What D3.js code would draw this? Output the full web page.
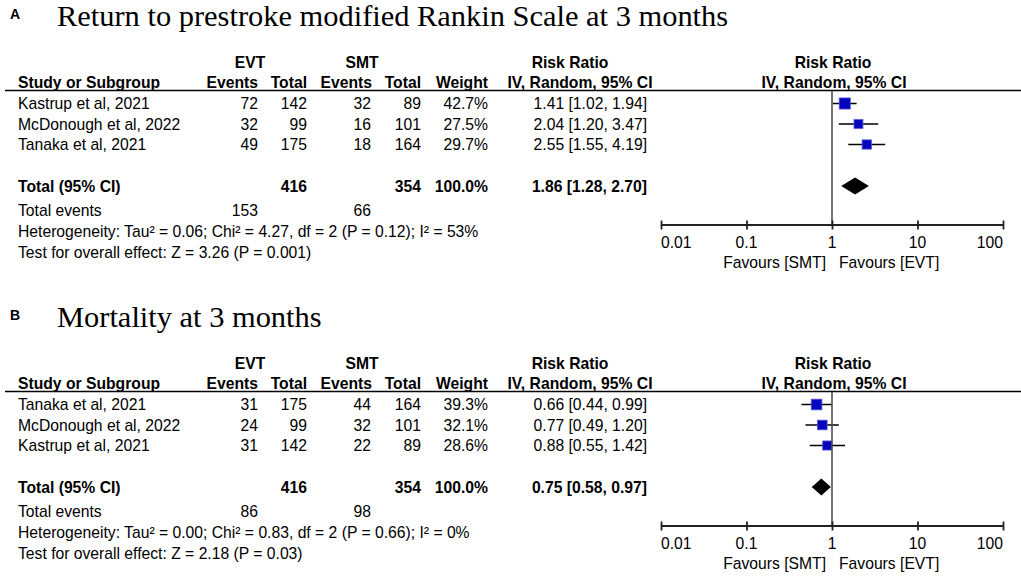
<!DOCTYPE html>
<html>
<head>
<meta charset="utf-8">
<script src="https://cdn.jsdelivr.net/npm/d3@7"></script>
<style>
  body { margin: 0; background: #fff; }
  svg { display: block; }
  text { font-family: "Liberation Sans", Arial, sans-serif; font-size: 15.7px; fill: #000; }
  .bold { font-weight: bold; }
  .title { font-family: "Liberation Serif", "Times New Roman", serif; font-size: 29px; }
</style>
</head>
<body>
<div id="chart"></div>
<script>
// Panel A: return to prestroke mRS
const studiesA = ["Kastrup et al, 2021", "McDonough et al, 2022", "Tanaka et al, 2021"];
const evtEventsA = [72, 32, 49];
const evtTotalA = [142, 99, 175];
const smtEventsA = [32, 16, 18];
const smtTotalA = [89, 101, 164];
const weightA = [42.7, 27.5, 29.7];
const rrA = [1.41, 2.04, 2.55];
const loA = [1.02, 1.20, 1.55];
const hiA = [1.94, 3.47, 4.19];
const totalA = { rr: 1.86, lo: 1.28, hi: 2.70, evtN: 416, smtN: 354, evtEv: 153, smtEv: 66 };
const hetA = "Heterogeneity: Tau² = 0.06; Chi² = 4.27, df = 2 (P = 0.12); I² = 53%";
const testA = "Test for overall effect: Z = 3.26 (P = 0.001)";

// Panel B: mortality
const studiesB = ["Tanaka et al, 2021", "McDonough et al, 2022", "Kastrup et al, 2021"];
const evtEventsB = [31, 24, 31];
const evtTotalB = [175, 99, 142];
const smtEventsB = [44, 32, 22];
const smtTotalB = [164, 101, 89];
const weightB = [39.3, 32.1, 28.6];
const rrB = [0.66, 0.77, 0.88];
const loB = [0.44, 0.49, 0.55];
const hiB = [0.99, 1.20, 1.42];
const totalB = { rr: 0.75, lo: 0.58, hi: 0.97, evtN: 416, smtN: 354, evtEv: 86, smtEv: 98 };
const hetB = "Heterogeneity: Tau² = 0.00; Chi² = 0.83, df = 2 (P = 0.66); I² = 0%";
const testB = "Test for overall effect: Z = 2.18 (P = 0.03)";

const tickValues = [0.01, 0.1, 1, 10, 100];
const tickLabels = ["0.01", "0.1", "1", "10", "100"];

const panels = [
  { letter: "A", title: "Return to prestroke modified Rankin Scale at 3 months", dy: 0,
    studies: studiesA, evtEv: evtEventsA, evtN: evtTotalA, smtEv: smtEventsA, smtN: smtTotalA,
    w: weightA, rr: rrA, lo: loA, hi: hiA, total: totalA, het: hetA, test: testA },
  { letter: "B", title: "Mortality at 3 months", dy: 301,
    studies: studiesB, evtEv: evtEventsB, evtN: evtTotalB, smtEv: smtEventsB, smtN: smtTotalB,
    w: weightB, rr: rrB, lo: loB, hi: hiB, total: totalB, het: hetB, test: testB }
];

const width = 1021, height = 578;
const svg = d3.select("#chart").append("svg")
  .attr("width", width)
  .attr("height", height);

const x = d3.scaleLog().domain([0.01, 100]).range([661, 1003]);
const size = d3.scaleSqrt().domain([0, 100]).range([0, 17]);
const f2 = d3.format(".2f");
const ci = (r, l, h) => `${f2(r)} [${f2(l)}, ${f2(h)}]`;

// column right edges
const col = { evtEv: 258, evtN: 307, smtEv: 371, smtN: 421, w: 488, rr: 647 };

panels.forEach(p => {
  const g = svg.append("g").attr("transform", `translate(0,${p.dy})`);

  g.append("text").attr("class", "bold").attr("x", 10).attr("y", 19)
    .style("font-size", "14px").text(p.letter);
  // title is a bit wider in the source image, stretch it slightly
  g.append("text").attr("class", "title")
    .attr("transform", "translate(57,26) scale(1.05,1)").text(p.title);

  // headers
  const h1 = 68, h2 = 88;
  const hdr = (t, xx, yy, anchor) => g.append("text").attr("class", "bold")
    .attr("x", xx).attr("y", yy).attr("text-anchor", anchor).text(t);
  hdr("EVT", 250, h1, "middle");
  hdr("SMT", 362, h1, "middle");
  hdr("Risk Ratio", 570, h1, "middle");
  hdr("Risk Ratio", 833, h1, "middle");
  hdr("Study or Subgroup", 18, h2, "start");
  hdr("Events", col.evtEv, h2, "end");
  hdr("Total", col.evtN, h2, "end");
  hdr("Events", 372, h2, "end");
  hdr("Total", col.smtN, h2, "end");
  hdr("Weight", col.w, h2, "end");
  hdr("IV, Random, 95% CI", 580, h2, "middle");
  hdr("IV, Random, 95% CI", 834, h2, "middle");

  g.append("line").attr("x1", 5).attr("x2", width).attr("y1", 90.5).attr("y2", 90.5)
    .attr("stroke", "#000").attr("stroke-width", 1.5);

  // study rows
  const rowY = i => 103.5 + i * 20.5;
  const rows = g.selectAll("g.row").data(p.studies).join("g").attr("class", "row");
  const cell = (sel, xx, fn, anchor) => sel.append("text")
    .attr("x", xx).attr("y", (d, i) => rowY(i) + 5.5).attr("text-anchor", anchor).text(fn);
  cell(rows, 18, d => d, "start");
  cell(rows, col.evtEv, (d, i) => p.evtEv[i], "end");
  cell(rows, col.evtN, (d, i) => p.evtN[i], "end");
  cell(rows, col.smtEv, (d, i) => p.smtEv[i], "end");
  cell(rows, col.smtN, (d, i) => p.smtN[i], "end");
  cell(rows, col.w, (d, i) => p.w[i].toFixed(1) + "%", "end");
  cell(rows, col.rr, (d, i) => ci(p.rr[i], p.lo[i], p.hi[i]), "end");

  // totals
  const tY = 191.5;
  g.append("text").attr("class", "bold").attr("x", 18).attr("y", tY).text("Total (95% CI)");
  g.append("text").attr("class", "bold").attr("x", col.evtN).attr("y", tY).attr("text-anchor", "end").text(p.total.evtN);
  g.append("text").attr("class", "bold").attr("x", col.smtN).attr("y", tY).attr("text-anchor", "end").text(p.total.smtN);
  g.append("text").attr("class", "bold").attr("x", col.w).attr("y", tY).attr("text-anchor", "end").text("100.0%");
  g.append("text").attr("class", "bold").attr("x", col.rr).attr("y", tY).attr("text-anchor", "end")
    .text(ci(p.total.rr, p.total.lo, p.total.hi));

  g.append("text").attr("x", 18).attr("y", 215.5).text("Total events");
  g.append("text").attr("x", col.evtEv).attr("y", 215.5).attr("text-anchor", "end").text(p.total.evtEv);
  g.append("text").attr("x", col.smtEv).attr("y", 215.5).attr("text-anchor", "end").text(p.total.smtEv);
  g.append("text").attr("x", 18).attr("y", 236.5).text(p.het);
  g.append("text").attr("x", 18).attr("y", 258).text(p.test);

  // forest plot
  const axisY = 225;
  g.append("line").attr("x1", x(1)).attr("x2", x(1)).attr("y1", 91).attr("y2", axisY)
    .attr("stroke", "#444").attr("stroke-width", 1.5);

  rows.append("line")
    .attr("x1", (d, i) => x(p.lo[i])).attr("x2", (d, i) => x(p.hi[i]))
    .attr("y1", (d, i) => rowY(i)).attr("y2", (d, i) => rowY(i))
    .attr("stroke", "#000").attr("stroke-width", 1.5);
  rows.append("rect")
    .attr("x", (d, i) => x(p.rr[i]) - size(p.w[i]) / 2)
    .attr("y", (d, i) => rowY(i) - size(p.w[i]) / 2)
    .attr("width", (d, i) => size(p.w[i]))
    .attr("height", (d, i) => size(p.w[i]))
    .attr("fill", "#0505bd").attr("stroke", "#5656d6").attr("stroke-width", 0.8);

  const dY = 186, dh = 8.5;
  g.append("path")
    .attr("d", `M${x(p.total.lo)},${dY} L${x(p.total.rr)},${dY - dh} L${x(p.total.hi)},${dY} L${x(p.total.rr)},${dY + dh} Z`)
    .attr("fill", "#000");

  const axis = d3.axisBottom(x).tickValues(tickValues).tickSize(0).tickFormat("");
  const ax = g.append("g").attr("transform", `translate(0,${axisY})`).call(axis);
  ax.select(".domain").attr("stroke", "#222").attr("stroke-width", 1.8).attr("d", `M${x(0.01)},0H${x(100)}`);
  ax.selectAll(".tick line").attr("y1", -4.5).attr("y2", 4.5).attr("stroke", "#222").attr("stroke-width", 1.8);

  g.selectAll("text.tl").data(tickValues).join("text").attr("class", "tl")
    .attr("x", d => x(d)).attr("y", 248)
    .attr("text-anchor", (d, i) => i === 0 ? "start" : i === tickValues.length - 1 ? "end" : "middle")
    .text((d, i) => tickLabels[i]);

  g.append("text").attr("x", x(1) - 6).attr("y", 268).attr("text-anchor", "end").text("Favours [SMT]");
  g.append("text").attr("x", x(1) + 7).attr("y", 268).attr("text-anchor", "start").text("Favours [EVT]");
});
</script>
</body>
</html>
